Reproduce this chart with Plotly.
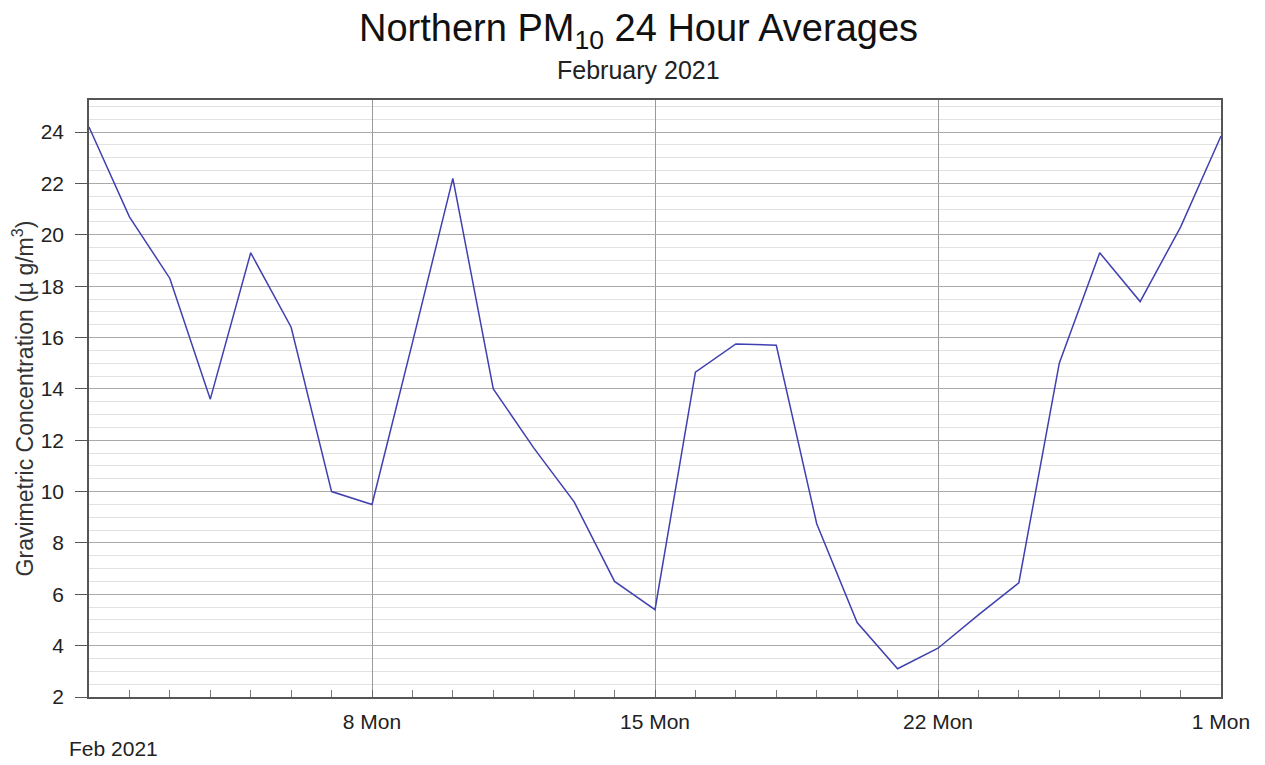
import plotly.graph_objects as go
import pandas as pd

# Data
dates = pd.date_range("2021-02-01", "2021-03-01", freq="D").strftime("%Y-%m-%d").tolist()
pm10 = [24.2, 20.7, 18.3, 13.6, 19.3, 16.4, 10.0, 9.5, 15.8, 22.2,
        14.0, 11.7, 9.6, 6.5, 5.4, 14.65, 15.75, 15.7, 8.75, 4.9,
        3.1, 3.9, 5.2, 6.45, 15.0, 19.3, 17.4, 20.3, 23.85]
tick_vals = ["2021-02-08", "2021-02-15", "2021-02-22", "2021-03-01"]
tick_text = ["8 Mon", "15 Mon", "22 Mon", "1 Mon"]
y_ticks = list(range(2, 26, 2))

FONT = "Liberation Sans, Arial, sans-serif"

fig = go.Figure()
fig.add_trace(go.Scatter(
    x=dates, y=pm10, mode="lines",
    line=dict(color="#4040b0", width=1.5),
    showlegend=False, hoverinfo="x+y",
))

# the page body has an 8px margin, so the figure is offset by 8px
fig.update_layout(
    width=1257, height=757,
    margin=dict(l=81, r=44, t=92, b=68),
    paper_bgcolor="white", plot_bgcolor="white",
    font=dict(family=FONT, color="#222"),
    xaxis=dict(
        type="date", automargin=False,
        range=["2021-02-01", "2021-03-01"],
        tickmode="array", tickvals=tick_vals, ticktext=tick_text,
        ticks="inside", ticklen=7, tickcolor="#666",
        showgrid=True, gridcolor="#999", gridwidth=1,
        showline=True, linecolor="#555", linewidth=1.5, mirror=True,
        tickfont=dict(size=21, color="#222"),
        ticklabelstandoff=5,
        zeroline=False,
        minor=dict(dtick=86400000, tick0="2021-02-01", ticks="inside",
                   ticklen=7, tickcolor="#777", showgrid=False),
    ),
    yaxis=dict(
        automargin=False,
        range=[2, 25.25],
        tickmode="array", tickvals=y_ticks,
        ticks="outside", ticklen=12, tickcolor="#555",
        showgrid=True, gridcolor="#aaa", gridwidth=1,
        showline=True, linecolor="#555", linewidth=1.5, mirror=True,
        tickfont=dict(size=21, color="#222"),
        ticklabelstandoff=7,
        zeroline=False,
        minor=dict(dtick=0.5, tick0=2, showgrid=True, gridcolor="#e2e2e2",
                   gridwidth=1, ticks=""),
        title=dict(text="Gravimetric Concentration (µ g/m<sup>3</sup>)",
                   font=dict(size=23, color="#333"), standoff=1),
    ),
    annotations=[
        dict(text="Northern PM<sub>10</sub> 24 Hour Averages",
             xref="paper", yref="paper", x=0.4855, y=1, xanchor="center",
             yanchor="middle", yshift=69, showarrow=False,
             font=dict(size=38, color="#111")),
        dict(text="February 2021",
             xref="paper", yref="paper", x=0.4855, y=1, xanchor="center",
             yanchor="middle", yshift=30, showarrow=False,
             font=dict(size=25, color="#222")),
        dict(text="Feb 2021",
             xref="paper", yref="paper", x=0, y=0, xanchor="left",
             yanchor="middle", xshift=-22, yshift=-51, showarrow=False,
             font=dict(size=21, color="#222")),
    ],
)

fig.write_html("out.html")
